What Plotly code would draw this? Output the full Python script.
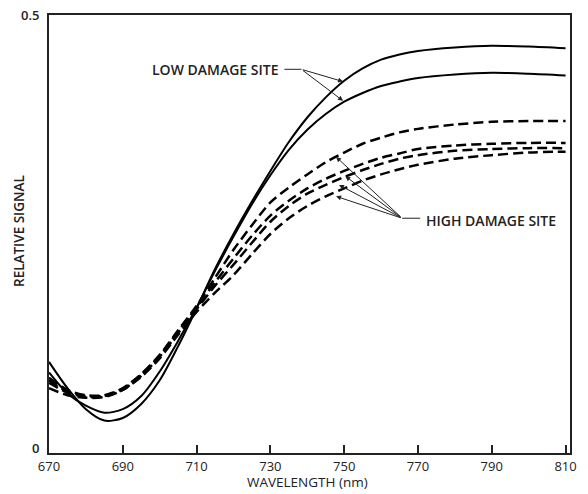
import plotly.graph_objects as go

wavelength = [670, 675, 680, 685, 690, 695, 700, 705, 710, 715, 720, 725, 730, 735, 740, 745, 750, 755, 760, 765, 770, 780, 790, 800, 810]

low_1 = [0.104, 0.074, 0.050, 0.037, 0.040, 0.056, 0.083, 0.122, 0.165, 0.210, 0.250, 0.287, 0.322, 0.355, 0.383, 0.406, 0.425, 0.439, 0.449, 0.455, 0.459, 0.463, 0.465, 0.464, 0.462]
low_2 = [0.092, 0.068, 0.054, 0.046, 0.050, 0.065, 0.093, 0.128, 0.166, 0.208, 0.247, 0.284, 0.317, 0.346, 0.369, 0.387, 0.401, 0.411, 0.419, 0.424, 0.428, 0.432, 0.434, 0.433, 0.431]

high_1 = [0.080, 0.069, 0.064, 0.065, 0.073, 0.090, 0.112, 0.140, 0.168, 0.200, 0.232, 0.260, 0.286, 0.303, 0.318, 0.332, 0.343, 0.353, 0.360, 0.366, 0.370, 0.375, 0.378, 0.379, 0.379]
high_2 = [0.086, 0.072, 0.066, 0.066, 0.074, 0.090, 0.111, 0.139, 0.166, 0.195, 0.222, 0.248, 0.271, 0.288, 0.302, 0.313, 0.322, 0.330, 0.337, 0.342, 0.347, 0.351, 0.353, 0.354, 0.354]
high_3 = [0.074, 0.066, 0.063, 0.064, 0.072, 0.088, 0.110, 0.137, 0.164, 0.191, 0.215, 0.240, 0.264, 0.282, 0.296, 0.306, 0.315, 0.323, 0.330, 0.336, 0.340, 0.345, 0.347, 0.348, 0.348]
high_4 = [0.083, 0.070, 0.065, 0.065, 0.072, 0.087, 0.108, 0.135, 0.161, 0.183, 0.203, 0.227, 0.250, 0.268, 0.282, 0.293, 0.302, 0.311, 0.318, 0.324, 0.329, 0.336, 0.340, 0.343, 0.344]

x_ticks = [670, 690, 710, 730, 750, 770, 790, 810]
y_ticks = [0, 0.5]
y_ticktext = ["0", "0.5"]

fig = go.Figure()
for ys in (low_1, low_2):
    fig.add_trace(go.Scatter(x=wavelength, y=ys, mode="lines",
                             line=dict(color="black", width=2, shape="spline", smoothing=0.8),
                             showlegend=False, hoverinfo="skip"))
for ys in (high_1, high_2, high_3, high_4):
    fig.add_trace(go.Scatter(x=wavelength, y=ys, mode="lines",
                             line=dict(color="black", width=2.5, dash="10px,5px", shape="spline", smoothing=0.8),
                             showlegend=False, hoverinfo="skip"))

ink = "#222"
font_lbl = dict(family="Open Sans", size=14, color=ink, weight=600)

ann = []
ann.append(dict(x=732.6, y=0.438, xref="x", yref="y", text="LOW DAMAGE SITE", showarrow=False,
                xanchor="right", yanchor="middle", font=font_lbl))
ann.append(dict(x=771.5, y=0.265, xref="x", yref="y", text="HIGH DAMAGE SITE", showarrow=False,
                xanchor="left", yanchor="middle", font=font_lbl))
# low damage arrows
for hx, hy in [(749.7, 0.424), (749.7, 0.402)]:
    ann.append(dict(x=hx, y=hy, ax=738.4, ay=0.438, xref="x", yref="y", axref="x", ayref="y",
                    text="", showarrow=True, arrowhead=2, arrowsize=1, arrowwidth=1, arrowcolor=ink))
# high damage arrows
for hx, hy in [(747.8, 0.338), (750.3, 0.316), (748.6, 0.306), (747.8, 0.293)]:
    ann.append(dict(x=hx, y=hy, ax=765.7, ay=0.268, xref="x", yref="y", axref="x", ayref="y",
                    text="", showarrow=True, arrowhead=2, arrowsize=1, arrowwidth=1, arrowcolor=ink))

# y tick labels and axis titles
for v, t in zip(y_ticks, y_ticktext):
    ann.append(dict(x=0, y=v, xref="paper", yref="y", text=t, showarrow=False, xanchor="right",
                    yanchor="middle", xshift=-8, yshift=5 if v == 0 else 0,
                    font=dict(family="Open Sans", size=13, color=ink, weight=600)))
ann.append(dict(x=0.5, y=0, xref="paper", yref="paper", text="WAVELENGTH (nm)", showarrow=False,
                xanchor="center", yanchor="middle", xshift=-2, yshift=-29,
                font=dict(family="Open Sans", size=13.5, color=ink, weight=500)))
ann.append(dict(x=0, y=0.507, xref="paper", yref="paper", text="RELATIVE SIGNAL", showarrow=False,
                xanchor="center", yanchor="middle", xshift=-30, textangle=-90,
                font=dict(family="Open Sans", size=13.5, color=ink, weight=600)))

shapes = [
    dict(type="line", xref="x", yref="y", x0=733.8, y0=0.438, x1=738.4, y1=0.438, line=dict(color=ink, width=1)),
    dict(type="line", xref="x", yref="y", x0=765.7, y0=0.268, x1=770.6, y1=0.268, line=dict(color=ink, width=1)),
]

fig.update_layout(
    width=588, height=494,
    margin=dict(l=49, r=11, t=15, b=41),
    paper_bgcolor="white", plot_bgcolor="white",
    annotations=ann, shapes=shapes,
    font=dict(family="Open Sans", color=ink),
)
fig.update_xaxes(range=[670, 811.2], tickvals=x_ticks, ticks="inside", ticklen=8, tickwidth=1.5,
                 tickcolor=ink, showline=True, linewidth=2, linecolor=ink, mirror=True,
                 showgrid=False, zeroline=False, tickfont=dict(family="Open Sans", size=13, color=ink))
fig.update_yaxes(range=[0, 0.5], tickvals=y_ticks, showticklabels=False, ticks="",
                 showline=True, linewidth=2, linecolor=ink, mirror=True,
                 showgrid=False, zeroline=False)

fig.write_html("out.html")
